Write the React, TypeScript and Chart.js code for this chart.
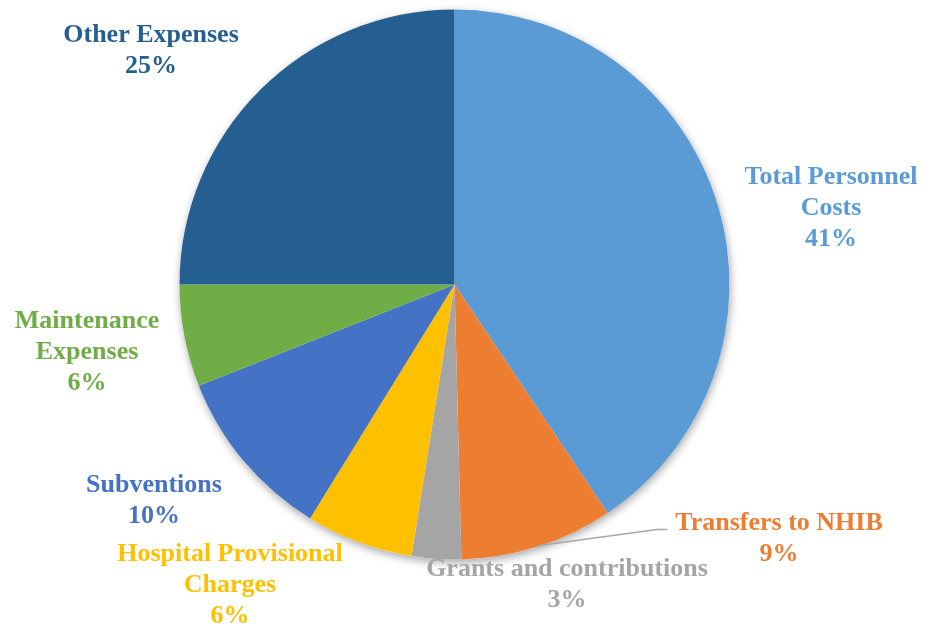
import React, { useEffect, useRef } from "react";
import { Chart, registerables } from "chart.js";

Chart.register(...registerables);

const categories = [
  "Total Personnel Costs",
  "Transfers to NHIB",
  "Grants and contributions",
  "Hospital Provisional Charges",
  "Subventions",
  "Maintenance Expenses",
  "Other Expenses",
];
const values = [40.6, 9.0, 2.9, 6.3, 10.2, 6.0, 25.0];
const colors = ["#5B9BD5", "#ED7D31", "#A5A5A5", "#FFC000", "#4472C4", "#70AD47", "#255E91"];
// label text lines (percent appended from data)
const labelLines = [
  ["Total Personnel", "Costs"],
  ["Transfers to NHIB"],
  ["Grants and contributions"],
  ["Hospital Provisional", "Charges"],
  ["Subventions"],
  ["Maintenance", "Expenses"],
  ["Other Expenses"],
];
// label centre (first line) offsets from pie centre, in pixels
const labelOffsets = [
  [376.5, -107],
  [324.5, 239],
  [112.5, 285],
  [-224.5, 270],
  [-300.5, 201],
  [-367.5, 37],
  [-303.5, -249],
];

const labelPlugin = {
  id: "pieLabels",
  beforeDatasetsDraw(chart: any) {
    const meta = chart.getDatasetMeta(0);
    const arc = meta.data[0];
    if (!arc) return;
    const { x, y, outerRadius } = arc.getProps(["x", "y", "outerRadius"], true);
    const ctx = chart.ctx;
    ctx.save();
    ctx.shadowColor = "rgba(0,0,0,0.35)";
    ctx.shadowBlur = 9;
    ctx.shadowOffsetX = 1;
    ctx.shadowOffsetY = 3;
    ctx.fillStyle = "#ffffff";
    ctx.beginPath();
    ctx.arc(x, y, outerRadius, 0, Math.PI * 2);
    ctx.fill();
    ctx.restore();
  },
  afterDatasetsDraw(chart: any) {
    const meta = chart.getDatasetMeta(0);
    const ctx = chart.ctx;
    const arc0 = meta.data[0];
    if (!arc0) return;
    const { x: cx, y: cy } = arc0.getProps(["x", "y"], true);
    const total = values.reduce((a, b) => a + b, 0);
    ctx.save();
    // leader line for Transfers to NHIB
    {
      const a = meta.data[1];
      const p = a.getProps(["startAngle", "endAngle", "outerRadius"], true);
      const mid = p.startAngle + (p.endAngle - p.startAngle) * 0.5;
      const r = p.outerRadius * 0.997;
      const sx = cx + Math.cos(mid) * r;
      const sy = cy + Math.sin(mid) * r;
      const lx = cx + labelOffsets[1][0] - 112;
      const ly = cy + labelOffsets[1][1] + 6;
      ctx.strokeStyle = "#A6A6A6";
      ctx.lineWidth = 1.5;
      ctx.beginPath();
      ctx.moveTo(sx, sy);
      ctx.lineTo(lx - 10, ly);
      ctx.lineTo(lx, ly);
      ctx.stroke();
    }
    ctx.font = "bold 26px 'Liberation Serif', 'Times New Roman', serif";
    ctx.textAlign = "center";
    ctx.textBaseline = "middle";
    const lh = 31;
    labelLines.forEach((lines, i) => {
      const pct = Math.round((values[i] / total) * 100) + "%";
      const all = [...lines, pct];
      ctx.fillStyle = colors[i];
      all.forEach((t, j) => {
        ctx.fillText(t, cx + labelOffsets[i][0], cy + labelOffsets[i][1] + j * lh);
      });
    });
    ctx.restore();
  },
};

export default function App() {
  const ref = useRef<HTMLCanvasElement | null>(null);
  useEffect(() => {
    if (!ref.current) return;
    const chart = new Chart(ref.current, {
      type: "pie",
      data: {
        labels: categories,
        datasets: [
          {
            data: values,
            backgroundColor: colors,
            borderWidth: 0,
          },
        ],
      },
      options: {
        animation: false,
        responsive: false,
        maintainAspectRatio: false,
        layout: { padding: { top: 9.5, bottom: 66.5, left: 179.5, right: 195.5 } },
        plugins: {
          legend: { display: false },
          tooltip: { enabled: false },
        },
      },
      plugins: [labelPlugin],
    });
    return () => chart.destroy();
  }, []);
  return (
    <div style={{ position: "absolute", left: 0, top: 0, width: 925, height: 626, background: "#fff" }}>
      <canvas ref={ref} width={925} height={626} style={{ width: 925, height: 626 }} />
    </div>
  );
}
